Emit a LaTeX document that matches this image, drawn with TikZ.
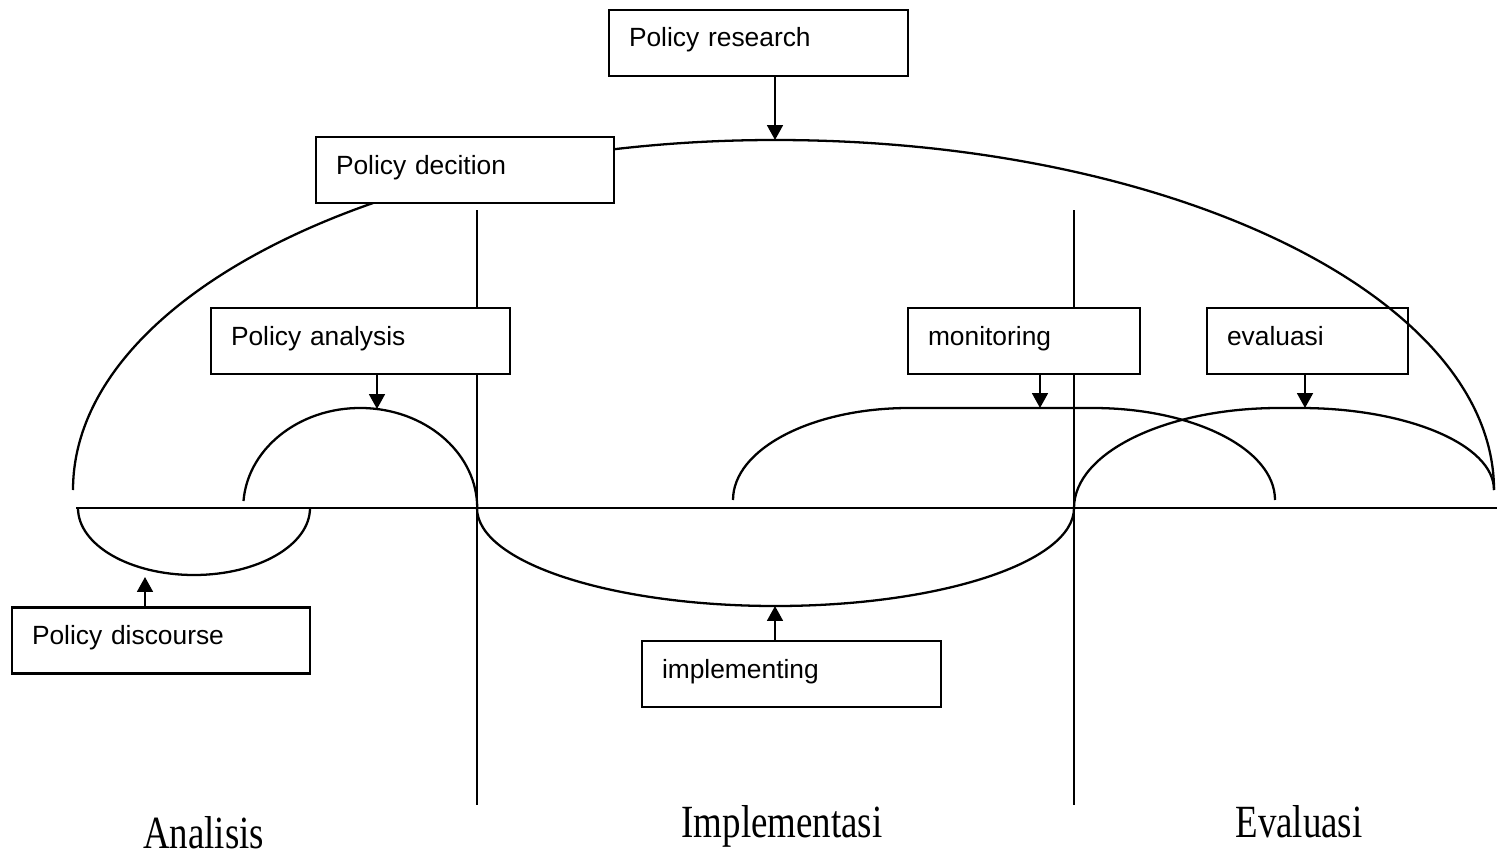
\documentclass[tikz,border=0pt]{standalone}
\usepackage{fontspec}
\usepackage{graphicx}
\setmainfont{Liberation Serif}
\newfontfamily\kotakfont{Liberation Sans}
\usetikzlibrary{arrows.meta}
\tikzset{
	kotak/.style={draw, fill=white, inner xsep=0.4cm, inner ysep=0pt, text height=0.74cm, text depth=0.58cm, align=left, font=\kotakfont\fontsize{15}{18}\selectfont},
	tahap/.style={anchor=base, font=\fontsize{21}{25}\selectfont}
}
\begin{document}
\begin{tikzpicture}[>={Triangle[length=8.5pt,width=9pt]}, line width=1.3pt]
		\useasboundingbox (0,0) rectangle (29.94,17.16);
		\def\yax{7} \def\xa{9.54} \def\xb{21.48} % sumbu dan batas tahap
		\draw (1.52,\yax)--(29.94,\yax);
		\draw (\xa,12.96)--(\xa,1.06);
		\draw (\xb,12.96)--(\xb,1.06);
		% busur kecil
		\draw (1.56,\yax) arc[start angle=180,end angle=360,x radius=2.32,y radius=1.34];
		\draw (4.87,7.14) arc[start angle=176,end angle=0,x radius=2.34,y radius=2];
		\draw (\xa,\yax) arc[start angle=180,end angle=360,x radius=5.97,y radius=1.96];
		\draw (14.66,7.16) arc[start angle=180,end angle=90,x radius=3.52,y radius=1.84] -- (21.86,9) arc[start angle=90,end angle=0,x radius=3.64,y radius=1.84];
		\draw (\xb,\yax) arc[start angle=180,end angle=90,x radius=4.1,y radius=2] -- (26,9) arc[start angle=90,end angle=0,x radius=3.88,y radius=1.64];
		% kotak
		\node[kotak, text width=5.18cm] (analysis) at (7.21,10.34) {Policy analysis};
		\node[kotak, text width=3.84cm] (monitoring) at (20.48,10.34) {monitoring};
		\node[kotak, text width=3.22cm] (evaluasi) at (26.15,10.34) {evaluasi};
		\node[kotak, text width=5.16cm] (discourse) at (3.22,4.35) {Policy discourse};
		\node[kotak, text width=5.18cm] (implementing) at (15.83,3.68) {implementing};
		\node[kotak, text width=5.18cm] (research) at (15.17,16.3) {Policy research};
		% busur besar
		\draw (1.46,7.36) arc[start angle=180,end angle=90,x radius=14.04,y radius=7] arc[start angle=90,end angle=0,x radius=14.38,y radius=7];
		\node[kotak, text width=5.16cm] (decition) at (9.3,13.76) {Policy decition};
		% panah
		\coordinate (rtop) at (15.5,14.36);
		\coordinate (atop) at (7.54,8.98);
		\coordinate (mtop) at (20.8,9);
		\coordinate (etop) at (26.1,9);
		\coordinate (dbot) at (2.9,5.62);
		\coordinate (ibot) at (15.5,5.04);
		\draw[->] (research.south -| rtop)--(rtop);
		\draw[->] (analysis.south -| atop)--(atop);
		\draw[->] (monitoring.south -| mtop)--(mtop);
		\draw[->] (evaluasi.south -| etop)--(etop);
		\draw[->] (discourse.north -| dbot)--(dbot);
		\draw[->] (implementing.north -| ibot)--(ibot);
		% nama tahap
		\node[tahap] (analisis) at (4.07,0.2) {\scalebox{1}[1.25]{Analisis}};
		\node[tahap] (implementasi) at (15.64,0.42) {\scalebox{1}[1.25]{Implementasi}};
		\node[tahap] (evaluasitahap) at (25.98,0.42) {\scalebox{1}[1.25]{Evaluasi}};
\end{tikzpicture}
\end{document}
